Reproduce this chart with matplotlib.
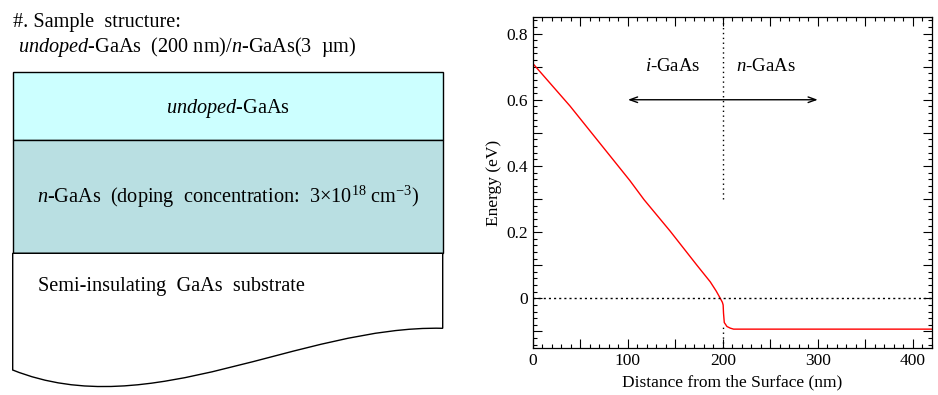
import matplotlib
matplotlib.use("Agg")
import matplotlib.pyplot as plt
from matplotlib.patches import Rectangle, PathPatch
from matplotlib.path import Path
from matplotlib.ticker import MultipleLocator, FuncFormatter

plt.rcParams['font.family'] = ['Liberation Serif', 'DejaVu Serif']
plt.rcParams['mathtext.fontset'] = 'custom'
plt.rcParams['mathtext.rm'] = 'Liberation Serif'
plt.rcParams['mathtext.it'] = 'Liberation Serif:italic'
plt.rcParams['axes.unicode_minus'] = False

# ---- data (band profile) ----
distance_nm = [0, 39, 74, 102, 117, 144.5, 172.7, 186.7, 193, 197.3, 199.5,
               200.3, 200.7, 201.5, 204.3, 207.8, 211.3, 420]
energy_eV = [0.709, 0.581, 0.456, 0.356, 0.298, 0.203, 0.100, 0.050, 0.022,
             0.0, -0.012, -0.02, -0.045, -0.073, -0.085, -0.090, -0.093, -0.093]

x_major_ticks = [0, 100, 200, 300, 400]
y_major_ticks = [0, 0.2, 0.4, 0.6, 0.8]
interface_nm = 200
region_labels = ["$\\mathit{i}$-GaAs", "$\\mathit{n}$-GaAs"]

# ---- layer diagram text ----
title_lines = ["#. Sample  structure:",
               " $\\mathit{undoped}$-GaAs  (200 nm)/$\\mathit{n}$-GaAs(3  \u00b5m)"]
layer_labels = ["$\\mathit{undoped}$-GaAs",
                "$\\mathit{n}$-GaAs  (doping  concentration:  3\u00d710$^{18}$ cm$^{-3}$)",
                "Semi-insulating  GaAs  substrate"]
layer_colors = ["#CCFFFF", "#B9DFE2", "#FFFFFF"]

fig = plt.figure(figsize=(9.38, 3.95), dpi=100)

# ---------- left schematic (pixel coordinates) ----------
ax0 = fig.add_axes([0, 0, 1, 1])
ax0.set_xlim(0, 938)
ax0.set_ylim(395, 0)
ax0.axis('off')

bx0, bx1 = 12.7, 442.7
y_top, y_mid, y_sub = 72.3, 140.3, 253.3
ax0.add_patch(Rectangle((bx0, y_top), bx1 - bx0, y_mid - y_top,
                        fc=layer_colors[0], ec='black', lw=1))
ax0.add_patch(Rectangle((bx0, y_mid), bx1 - bx0, y_sub - y_mid,
                        fc=layer_colors[1], ec='black', lw=1))
verts = [(bx0, y_sub), (bx1, y_sub), (bx1, 328.3),
         (300, 325), (150, 425), (bx0, 370), (bx0, y_sub)]
codes = [Path.MOVETO, Path.LINETO, Path.LINETO,
         Path.CURVE4, Path.CURVE4, Path.CURVE4, Path.CLOSEPOLY]
ax0.add_patch(PathPatch(Path(verts, codes), fc=layer_colors[2], ec='black', lw=1))

fs_d = 14.6
ax0.text(13, 27.3, title_lines[0], fontsize=fs_d, va='baseline', ha='left')
ax0.text(13, 51.7, title_lines[1], fontsize=fs_d, va='baseline', ha='left')
ax0.text((bx0 + bx1) / 2, 113.3, layer_labels[0], fontsize=fs_d, va='baseline', ha='center')
ax0.text((bx0 + bx1) / 2, 203, layer_labels[1], fontsize=fs_d, va='baseline', ha='center')
ax0.text(38, 290.5, layer_labels[2], fontsize=fs_d, va='baseline', ha='left')

# ---------- right plot ----------
ax = fig.add_axes([533 / 938, 1 - 348 / 395, (931.7 - 533) / 938, (348 - 17) / 395])
ax.plot(distance_nm, energy_eV, color='red', lw=1)
ax.axhline(0, color='black', lw=1, ls=(0, (1.5, 2.2)))
ax.vlines(interface_nm, 0.3, 0.85, color='black', lw=1, ls=(0, (1, 2.5)))
ax.vlines(interface_nm, -0.15, -0.08, color='black', lw=1, ls=(0, (1, 2.5)))

ax.annotate('', xy=(100, 0.6), xytext=(300, 0.6),
            arrowprops=dict(arrowstyle='<->,head_length=0.55,head_width=0.2',
                            lw=1, color='black', shrinkA=0, shrinkB=0,
                            mutation_scale=10))
ax.text(147, 0.70, region_labels[0], fontsize=13.5, ha='center', va='center')
ax.text(245.5, 0.70, region_labels[1], fontsize=13.5, ha='center', va='center')

ax.set_xlim(0, 420)
ax.set_ylim(-0.15, 0.85)
ax.xaxis.set_major_locator(MultipleLocator(50))
ax.xaxis.set_minor_locator(MultipleLocator(10))
ax.yaxis.set_major_locator(MultipleLocator(0.1))
ax.yaxis.set_minor_locator(MultipleLocator(0.02))


def xfmt(v, pos):
    for t in x_major_ticks:
        if abs(v - t) < 1e-6:
            return f"{t:g}"
    return ""


def yfmt(v, pos):
    for t in y_major_ticks:
        if abs(v - t) < 1e-6:
            return f"{t:g}"
    return ""


ax.xaxis.set_major_formatter(FuncFormatter(xfmt))
ax.yaxis.set_major_formatter(FuncFormatter(yfmt))
ax.tick_params(which='both', direction='in', top=True, right=True,
               labelsize=12.5, width=0.8)
ax.tick_params(which='major', length=6.5)
ax.tick_params(which='minor', length=3.2)
for s in ax.spines.values():
    s.set_linewidth(0.9)

ax.set_xlabel('Distance from the Surface (nm)', fontsize=12.5, labelpad=4)
ax.set_ylabel('Energy (eV)', fontsize=12.5, labelpad=3)

fig.savefig('out.png', dpi=100)
